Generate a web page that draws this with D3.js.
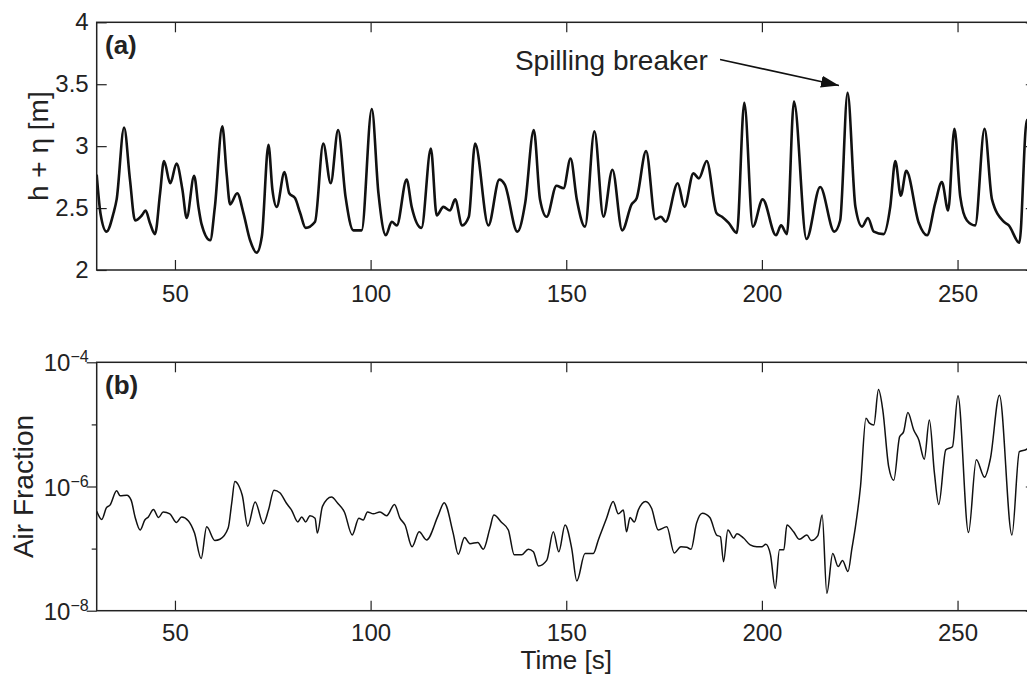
<!DOCTYPE html>
<html>
<head>
<meta charset="utf-8">
<script src="https://cdn.jsdelivr.net/npm/d3@7"></script>
<style>
  html, body { margin: 0; padding: 0; background: #fff; overflow: hidden; }
  text { font-family: "Liberation Sans", Arial, Helvetica, sans-serif; fill: #222; }
</style>
</head>
<body>
<script>
// ---- data ----
// panel (a): water depth h + eta [m] vs time [s]
var timeA = [30.0, 31.0, 32.5, 34.3, 35.1, 37.0, 38.5, 39.8, 41.5, 42.5, 43.6, 44.9, 46.2, 47.2, 48.8, 50.4,
  51.9, 53.0, 54.9, 56.0, 56.8, 59.0, 60.2, 62.1, 63.2, 64.1, 65.9, 67.5, 69.2, 70.9, 72.2, 73.9,
  74.9, 76.0, 78.0, 79.2, 80.7, 82.0, 83.4, 85.8, 87.9, 89.8, 91.7, 93.6, 95.6, 97.7, 100.3, 102.0,
  103.9, 105.4, 106.7, 109.2, 110.5, 113.0, 115.4, 116.9, 118.6, 120.3, 121.6, 123.4, 125.1, 126.7, 130.1, 132.9,
  134.3, 137.5, 139.5, 141.7, 143.3, 145.0, 147.5, 149.3, 151.1, 152.7, 154.8, 157.2, 159.5, 161.8, 164.3, 166.7,
  168.0, 170.4, 172.8, 174.2, 175.4, 178.5, 180.2, 182.5, 183.9, 185.9, 188.4, 189.8, 191.5, 193.6, 195.5, 197.7,
  200.2, 203.6, 204.9, 206.4, 208.2, 211.4, 214.9, 218.5, 220.0, 221.9, 223.9, 225.6, 227.1, 228.6, 231.1, 232.8,
  234.1, 235.5, 236.9, 240.1, 242.2, 244.3, 246.0, 247.6, 249.2, 250.7, 252.4, 254.5, 256.9, 258.8, 261.8, 263.1,
  265.8, 267.7, 269.0];
var depthA = [2.77, 2.45, 2.31, 2.46, 2.57, 3.15, 2.73, 2.40, 2.44, 2.48, 2.38, 2.29, 2.62, 2.88, 2.70, 2.86,
  2.65, 2.42, 2.76, 2.51, 2.37, 2.24, 2.51, 3.16, 2.78, 2.53, 2.62, 2.46, 2.24, 2.14, 2.27, 3.01,
  2.65, 2.51, 2.79, 2.62, 2.58, 2.46, 2.34, 2.39, 3.02, 2.70, 3.13, 2.59, 2.32, 2.32, 3.30, 2.62,
  2.28, 2.39, 2.36, 2.73, 2.51, 2.34, 2.98, 2.44, 2.51, 2.48, 2.57, 2.36, 2.43, 3.02, 2.36, 2.73,
  2.69, 2.31, 2.54, 3.13, 2.57, 2.43, 2.68, 2.66, 2.90, 2.57, 2.35, 3.12, 2.43, 2.81, 2.32, 2.53,
  2.58, 2.96, 2.41, 2.43, 2.39, 2.70, 2.51, 2.78, 2.74, 2.88, 2.46, 2.43, 2.38, 2.30, 3.35, 2.35,
  2.57, 2.28, 2.36, 2.29, 3.36, 2.25, 2.67, 2.31, 2.40, 3.43, 2.51, 2.35, 2.42, 2.31, 2.29, 2.51,
  2.88, 2.60, 2.80, 2.38, 2.28, 2.54, 2.71, 2.48, 3.14, 2.59, 2.40, 2.36, 3.14, 2.57, 2.39, 2.36,
  2.22, 3.21, 2.95];

// panel (b): air fraction, stored as log10 of the value read on the log axis
var timeB = [30.0, 31.3, 32.5, 33.4, 35.1, 36.0, 37.7, 38.8, 39.8, 41.1, 42.3, 43.2, 44.5, 45.8, 47.0, 48.7,
  50.4, 51.7, 53.4, 55.0, 56.7, 58.1, 60.2, 61.5, 63.6, 64.5, 65.3, 66.4, 67.2, 68.6, 70.5, 72.6,
  73.9, 75.3, 76.8, 78.5, 79.8, 81.4, 82.4, 83.4, 84.5, 85.8, 86.4, 87.7, 90.0, 91.6, 93.3, 95.3,
  97.0, 98.1, 99.2, 100.7, 102.4, 104.1, 106.1, 107.5, 108.8, 110.6, 112.4, 114.3, 117.3, 118.8, 121.1, 122.4,
  124.0, 125.4, 127.4, 128.8, 130.5, 131.5, 133.5, 135.2, 136.7, 138.6, 140.3, 141.6, 142.9, 145.0, 146.7, 148.1,
  149.7, 151.4, 152.7, 154.8, 156.9, 158.2, 160.3, 162.0, 163.3, 164.6, 165.4, 166.3, 167.4, 168.4, 170.3, 171.8,
  173.5, 175.7, 177.6, 179.3, 180.8, 181.9, 183.3, 184.8, 186.7, 188.4, 189.4, 190.2, 191.3, 192.8, 193.6, 195.3,
  197.0, 198.7, 200.0, 201.0, 202.2, 203.4, 204.5, 205.6, 206.4, 208.1, 209.6, 211.5, 212.6, 214.3, 215.4, 216.6,
  218.1, 219.5, 220.6, 222.0, 223.0, 223.9, 225.2, 226.6, 227.5, 228.6, 229.8, 230.9, 232.4, 233.7, 235.2, 236.2,
  237.3, 238.8, 240.1, 241.5, 242.8, 244.1, 245.2, 247.0, 248.7, 250.1, 252.8, 254.8, 256.9, 258.4, 260.7, 263.9,
  265.8, 267.7, 269.0];
var airLog10B = [-6.40, -6.53, -6.34, -6.30, -6.07, -6.15, -6.14, -6.22, -6.49, -6.70, -6.54, -6.49, -6.37, -6.50, -6.41, -6.44,
  -6.58, -6.49, -6.55, -6.75, -7.16, -6.65, -6.87, -6.85, -6.67, -6.27, -5.92, -6.00, -6.14, -6.64, -6.25, -6.60,
  -6.38, -6.06, -6.10, -6.27, -6.38, -6.57, -6.49, -6.57, -6.47, -6.51, -6.75, -6.32, -6.17, -6.27, -6.41, -6.78,
  -6.51, -6.54, -6.41, -6.44, -6.41, -6.47, -6.29, -6.51, -6.62, -6.97, -6.73, -6.86, -6.46, -6.26, -6.75, -7.09,
  -6.82, -6.92, -6.90, -7.01, -6.67, -6.46, -6.58, -6.70, -7.10, -7.10, -7.01, -7.05, -7.28, -7.19, -6.73, -7.05,
  -6.62, -7.00, -7.52, -7.08, -7.08, -6.86, -6.51, -6.24, -6.44, -6.38, -6.73, -6.50, -6.57, -6.38, -6.24, -6.35,
  -6.70, -6.65, -7.07, -6.97, -6.98, -7.01, -6.59, -6.43, -6.50, -6.78, -6.81, -7.21, -6.70, -6.83, -6.76, -6.83,
  -6.94, -6.97, -6.97, -6.93, -7.10, -7.64, -7.02, -7.02, -6.62, -6.73, -6.85, -6.78, -6.87, -6.79, -6.46, -7.72,
  -7.08, -7.29, -7.19, -7.37, -7.00, -6.65, -6.00, -4.90, -4.98, -5.01, -4.44, -4.77, -5.68, -5.90, -5.20, -5.12,
  -4.81, -5.09, -5.25, -5.56, -4.93, -5.79, -6.29, -5.41, -5.36, -4.54, -6.74, -5.57, -5.85, -5.55, -4.53, -6.78,
  -5.44, -5.40, -5.30];

// ticks
var xTicks = [50, 100, 150, 200, 250];
var yTicksA = [2, 2.5, 3, 3.5, 4];
var yTicksB = [1e-8, 1e-7, 1e-6, 1e-5, 1e-4];
var yLabelExpB = {"-4": "\u22124", "-6": "\u22126", "-8": "\u22128"};

// annotation (data units of panel a)
var noteText = "Spilling breaker";
var noteTextPos = [186.2, 3.615];
var noteArrowFrom = [189.3, 3.70];
var noteArrowTo = [219.7, 3.49];

// ---- layout ----
var W = 1027, H = 676;
var left = 96.7, right = 1035.8;
var topA = 22.3, bottomA = 270, topB = 362.3, bottomB = 610.7;
var ink = "#222";

var svg = d3.select("body").append("svg")
  .attr("width", W).attr("height", H);

var defs = svg.append("defs");
defs.append("clipPath").attr("id", "clipA").append("rect")
  .attr("x", left).attr("y", topA).attr("width", right - left).attr("height", bottomA - topA);
defs.append("clipPath").attr("id", "clipB").append("rect")
  .attr("x", left).attr("y", topB).attr("width", right - left).attr("height", bottomB - topB);
defs.append("marker").attr("id", "arrowhead")
  .attr("markerUnits", "userSpaceOnUse")
  .attr("markerWidth", 20).attr("markerHeight", 14)
  .attr("refX", 18).attr("refY", 6).attr("orient", "auto")
  .append("path").attr("d", "M0,0 L18,6 L0,12 Z").attr("fill", "#111");

var x = d3.scaleLinear().domain([30, 270]).range([left, right]);
var yA = d3.scaleLinear().domain([2, 4]).range([bottomA, topA]);
var yB = d3.scaleLog().domain([1e-8, 1e-4]).range([bottomB, topB]);

function styleAxis(g) {
  g.select(".domain").remove();
  g.selectAll(".tick line").attr("stroke", ink).attr("stroke-width", 1.2);
  g.selectAll(".tick text")
    .attr("font-family", "'Liberation Sans', Arial, sans-serif")
    .attr("font-size", 24).attr("fill", ink);
}

// ---- panel (a) ----
svg.append("g").attr("transform", "translate(0," + bottomA + ")")
  .call(d3.axisBottom(x).tickValues(xTicks).tickSize(-10).tickPadding(15).tickFormat(d3.format("d")))
  .call(styleAxis);
svg.append("g").attr("transform", "translate(0," + topA + ")")
  .call(d3.axisTop(x).tickValues(xTicks).tickSize(-10).tickFormat(""))
  .call(styleAxis);
svg.append("g").attr("transform", "translate(" + left + ",0)")
  .call(d3.axisLeft(yA).tickValues(yTicksA).tickSize(-10).tickPadding(8).tickFormat(d3.format("~g")))
  .call(styleAxis);
svg.append("g").attr("transform", "translate(" + right + ",0)")
  .call(d3.axisRight(yA).tickValues(yTicksA).tickSize(-10).tickFormat(""))
  .call(styleAxis);

svg.append("path")
  .datum(d3.zip(timeA, depthA))
  .attr("clip-path", "url(#clipA)")
  .attr("fill", "none").attr("stroke", "#111").attr("stroke-width", 2.6)
  .attr("stroke-linejoin", "round")
  .attr("d", d3.line().curve(d3.curveMonotoneX)
    .x(function(d) { return x(d[0]); })
    .y(function(d) { return yA(d[1]); }));

svg.append("rect")
  .attr("x", left).attr("y", topA).attr("width", right - left).attr("height", bottomA - topA)
  .attr("fill", "none").attr("stroke", ink).attr("stroke-width", 1.5);

svg.append("text").attr("x", 105).attr("y", 54)
  .attr("font-size", 26).attr("font-weight", "bold").text("(a)");

svg.append("text")
  .attr("transform", "translate(48," + ((topA + bottomA) / 2) + ") rotate(-90)")
  .attr("text-anchor", "middle").attr("font-size", 28)
  .text("h + \u03b7 [m]");

// annotation
svg.append("text")
  .attr("x", x(noteTextPos[0])).attr("y", yA(noteTextPos[1]))
  .attr("text-anchor", "end").attr("font-size", 28)
  .text(noteText);
svg.append("line")
  .attr("x1", x(noteArrowFrom[0])).attr("y1", yA(noteArrowFrom[1]))
  .attr("x2", x(noteArrowTo[0])).attr("y2", yA(noteArrowTo[1]))
  .attr("stroke", "#111").attr("stroke-width", 1.6)
  .attr("marker-end", "url(#arrowhead)");

// ---- panel (b) ----
svg.append("g").attr("transform", "translate(0," + bottomB + ")")
  .call(d3.axisBottom(x).tickValues(xTicks).tickSize(-10).tickPadding(13).tickFormat(d3.format("d")))
  .call(styleAxis);
svg.append("g").attr("transform", "translate(0," + topB + ")")
  .call(d3.axisTop(x).tickValues(xTicks).tickSize(-10).tickFormat(""))
  .call(styleAxis);

function decadeTicks(g) {
  g.selectAll(".tick line").attr("x2", function(d) {
    var e = Math.round(Math.log10(d));
    var len = (e % 2 === 0) ? 10 : 5;
    return +d3.select(this).attr("x2") < 0 ? len : -len;
  });
}

var leftB = svg.append("g").attr("transform", "translate(" + left + ",0)")
  .call(d3.axisLeft(yB).tickValues(yTicksB).tickSize(-10).tickPadding(8).tickFormat(function() { return ""; }))
  .call(styleAxis)
  .call(decadeTicks);
leftB.selectAll(".tick").each(function(d) {
  var e = String(Math.round(Math.log10(d)));
  if (!yLabelExpB[e]) return;
  var t = d3.select(this).select("text").attr("dy", "0.36em");
  t.append("tspan").text("10");
  t.append("tspan").attr("dy", -9).attr("font-size", 16).text(yLabelExpB[e]);
});
svg.append("g").attr("transform", "translate(" + right + ",0)")
  .call(d3.axisRight(yB).tickValues(yTicksB).tickSize(-10).tickFormat(function() { return ""; }))
  .call(styleAxis)
  .call(function(g) {
    g.selectAll(".tick line").attr("x2", function(d) {
      var e = Math.round(Math.log10(d));
      return (e % 2 === 0) ? -10 : -5;
    });
  });

svg.append("path")
  .datum(d3.zip(timeB, airLog10B))
  .attr("clip-path", "url(#clipB)")
  .attr("fill", "none").attr("stroke", "#111").attr("stroke-width", 1.5)
  .attr("stroke-linejoin", "round")
  .attr("d", d3.line().curve(d3.curveMonotoneX)
    .x(function(d) { return x(d[0]); })
    .y(function(d) { return yB(Math.pow(10, d[1])); }));

svg.append("rect")
  .attr("x", left).attr("y", topB).attr("width", right - left).attr("height", bottomB - topB)
  .attr("fill", "none").attr("stroke", ink).attr("stroke-width", 1.5);

svg.append("text").attr("x", 105).attr("y", 394)
  .attr("font-size", 26).attr("font-weight", "bold").text("(b)");

svg.append("text")
  .attr("transform", "translate(33," + ((topB + bottomB) / 2) + ") rotate(-90)")
  .attr("text-anchor", "middle").attr("font-size", 28)
  .text("Air Fraction");

svg.append("text")
  .attr("x", (left + right) / 2).attr("y", 669)
  .attr("text-anchor", "middle").attr("font-size", 26)
  .text("Time [s]");
</script>
</body>
</html>
